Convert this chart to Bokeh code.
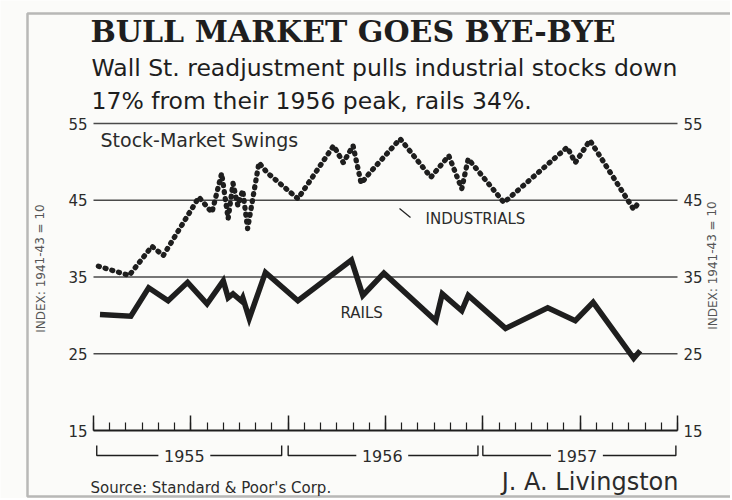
from bokeh.plotting import figure
from bokeh.models import LinearAxis, FixedTicker, Label, BoxAnnotation, Range1d
from bokeh.embed import file_html
from bokeh.resources import INLINE

# ---------------- data ----------------
title = "BULL MARKET GOES BYE-BYE"
subtitle_1 = "Wall St. readjustment pulls industrial stocks down"
subtitle_2 = "17% from their 1956 peak, rails 34%."
panel_title = "Stock-Market Swings"
y_axis_title = "INDEX: 1941-43 = 10"
source_text = "Source: Standard & Poor's Corp."
byline = "J. A. Livingston"

years = ["1955", "1956", "1957"]
y_ticks = [15, 25, 35, 45, 55]
grid_ticks = [25, 35, 45, 55]
month_ticks = list(range(0, 37))
half_year_ticks = [0, 6, 12, 18, 24, 30, 36]

# x = months since 1 Jan 1955
ind_x = [0.3, 2.2, 3.6, 4.3, 6.5, 7.3, 7.9, 8.3, 8.6, 8.9, 9.2, 9.5, 10.2, 10.7,
         12.6, 14.8, 15.4, 16.0, 16.5, 17.0, 18.9, 20.8, 21.9, 22.7, 23.1, 25.3,
         29.2, 29.7, 30.6, 33.3, 33.7]
ind_y = [36.4, 35.2, 39.0, 37.8, 45.4, 43.4, 48.5, 42.6, 47.2, 44.3, 46.3, 41.3,
         49.9, 48.6, 45.2, 52.1, 49.9, 52.1, 47.2, 48.5, 53.0, 48.0, 50.8, 46.5,
         50.4, 44.7, 51.9, 49.9, 52.8, 43.8, 45.0]

rail_x = [0.4, 2.3, 3.4, 4.6, 5.8, 7.0, 8.0, 8.3, 8.6, 9.1, 9.2, 9.6, 10.6, 12.6,
          15.9, 16.6, 17.9, 21.1, 21.5, 22.7, 23.1, 25.4, 28.0, 29.7, 30.8, 33.3,
          33.7]
rail_y = [30.1, 29.9, 33.6, 31.9, 34.3, 31.5, 34.5, 32.3, 32.8, 31.9, 32.3, 29.6,
          35.6, 31.9, 37.2, 32.6, 35.5, 29.3, 32.8, 30.6, 32.6, 28.3, 31.0, 29.3,
          31.7, 24.4, 25.4]

# year brackets (months)
year_starts = [0.2, 12.0, 24.0]
year_ends = [11.6, 23.7, 35.9]
year_centers = [5.6, 17.8, 29.8]

# ---------------- layout / style ----------------
BG = "#fbfbf9"
INK = "#1e1e1e"
TXT = "#2b2b2b"
GRID = "#4a4a4a"
SANS = "DejaVu Sans"
SERIF = "DejaVu Serif"

W, H = 730, 498
PX0, PX36 = 93, 677      # page x of month 0 and month 36
PY55, PY15 = 123, 430    # page y of index 55 and 15


def mx(px):
    return (px - PX0) * 36.0 / (PX36 - PX0)


def vy(py):
    return 55 - (py - PY55) * 40.0 / (PY15 - PY55)


p = figure(width=W, height=H, output_backend="svg", toolbar_location=None,
           x_range=Range1d(mx(0), mx(W)), y_range=Range1d(vy(H), vy(0)),
           x_axis_location=None, y_axis_location=None,
           min_border=0, min_border_left=0, min_border_right=0,
           min_border_top=0, min_border_bottom=0,
           background_fill_color=BG, border_fill_color=BG,
           outline_line_color=None)
p.grid.visible = False

# horizontal rules at the index levels, across the chart span only
p.segment(x0=[month_ticks[0]] * len(grid_ticks), y0=grid_ticks,
          x1=[month_ticks[-1]] * len(grid_ticks), y1=grid_ticks,
          line_color=GRID, line_width=1.3)

# left and right value axes
for side, loc in (("left", month_ticks[0]), ("right", month_ticks[-1])):
    ax = LinearAxis(fixed_location=loc, bounds=(15, 55),
                    ticker=FixedTicker(ticks=y_ticks),
                    axis_line_color=None, major_tick_line_color=None,
                    minor_tick_line_color=None,
                    major_label_text_font=SANS,
                    major_label_text_font_size="15px",
                    major_label_text_color=TXT,
                    major_label_standoff=0)
    p.add_layout(ax, side)

# month axis at index 15
xax = LinearAxis(fixed_location=15, bounds=(0, 36),
                 ticker=FixedTicker(ticks=half_year_ticks, minor_ticks=month_ticks),
                 axis_line_color=INK, axis_line_width=2,
                 major_tick_in=15, major_tick_out=0,
                 minor_tick_in=8, minor_tick_out=0,
                 major_tick_line_color=INK, major_tick_line_width=1.5,
                 minor_tick_line_color=INK, minor_tick_line_width=1.2,
                 major_label_overrides={t: "" for t in half_year_ticks})
p.add_layout(xax, "below")

# series
p.line(ind_x, ind_y, line_color=INK, line_width=5.3, line_dash="1 6",
       line_cap="round", line_join="round")
p.line(rail_x, rail_y, line_color=INK, line_width=5.5, line_join="miter")

# year brackets under the month axis
br_top, br_y = vy(445), vy(455)
gap = 1.6
xs, ys = [], []
for s, e, c in zip(year_starts, year_ends, year_centers):
    xs.append([s, s, c - gap]); ys.append([br_top, br_y, br_y])
    xs.append([c + gap, e, e]); ys.append([br_y, br_y, br_top])
p.multi_line(xs, ys, line_color=INK, line_width=1.4)


def label(px, py, text, size, font=SANS, color=TXT, align="left", **kw):
    p.add_layout(Label(x=mx(px), y=vy(py), text=text, text_font=font,
                       text_font_size=size, text_color=color,
                       text_align=align, text_baseline="middle", **kw))


for yr, c in zip(years, year_centers):
    p.add_layout(Label(x=c, y=br_y, text=yr, text_align="center",
                       text_baseline="middle", text_font=SANS,
                       text_font_size="16px", text_color=TXT))

# pointer + series labels
p.line([mx(399), mx(410)], [vy(208), vy(217)], line_color=INK, line_width=1.2)
label(425, 218, "INDUSTRIALS", "15px")
label(340, 312, "RAILS", "15px")

# titles and credits
label(90, 31, title, "30px", font=SERIF, color=INK, text_font_style="bold")
label(91, 67, subtitle_1, "23.5px", color=INK)
label(91, 100, subtitle_2, "23.5px", color=INK)
label(100, 139, panel_title, "19px")
for cx, cy in ((40, 268), (712, 265)):
    label(cx, cy, y_axis_title, "12px", color="#555555", align="center",
          angle=1.5708)
label(90, 487, source_text, "15px")
label(678, 481, byline, "24px", align="right")

# border of the newspaper clipping
p.add_layout(BoxAnnotation(left=mx(27), right=mx(W + 20), top=vy(13),
                           bottom=vy(496), fill_color=None, line_color=INK,
                           line_width=2.5))

open("out.html", "w").write(file_html(p, INLINE))
